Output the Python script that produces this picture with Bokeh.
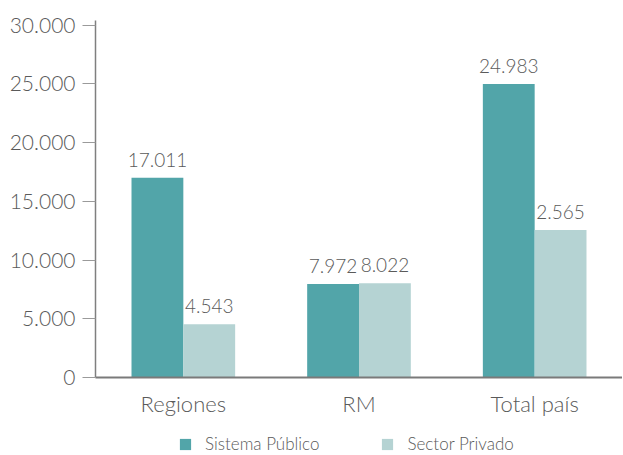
from bokeh.plotting import figure
from bokeh.layouts import column
from bokeh.models import FactorRange, FixedTicker, Legend, LegendItem, ColumnDataSource, Range1d
from bokeh.transform import dodge
from bokeh.core.properties import value
from bokeh.embed import file_html
from bokeh.resources import INLINE

categories = ["Regiones", "RM", "Total país"]
series_names = ["Sistema Público", "Sector Privado"]
sistema_publico = [17011, 7972, 24983]
sector_privado = [4543, 8022, 12565]
labels_publico = ["17.011", "7.972", "24.983"]
labels_privado = ["4.543", "8.022", "2.565"]
y_ticks = [0, 5000, 10000, 15000, 20000, 25000, 30000]
y_tick_labels = ["0", "5.000", "10.000", "15.000", "20.000", "25.000", "30.000"]

FONT = "'Lato Light', Lato"
TEXT_COLOR = "#5a5a5a"
C1 = "#52A5A9"
C2 = "#B5D3D3"

source = ColumnDataSource(dict(cat=categories, pub=sistema_publico, priv=sector_privado,
                               lpub=labels_publico, lpriv=labels_privado))

p = figure(x_range=FactorRange(factors=categories), y_range=Range1d(0, 30400),
           width=622, height=433, output_backend="svg", toolbar_location=None,
           min_border_left=95, min_border_top=20, min_border_right=0, min_border_bottom=56)
p.outline_line_color = None
p.xgrid.grid_line_color = None
p.ygrid.grid_line_color = None

w = 0.295
off = w / 2
p.vbar(x=dodge("cat", -off, range=p.x_range), top="pub", width=w, source=source,
       fill_color=C1, line_color=None)
p.vbar(x=dodge("cat", off, range=p.x_range), top="priv", width=w, source=source,
       fill_color=C2, line_color=None)

for xo, col, lab in [(-off, "pub", "lpub"), (off, "priv", "lpriv")]:
    p.text(x=dodge("cat", xo, range=p.x_range), y=col, text=lab, source=source,
           text_align="center", text_baseline="bottom", y_offset=-11,
           text_font=value(FONT), text_font_size="19px", text_color=TEXT_COLOR)

# y axis
p.yaxis.ticker = FixedTicker(ticks=y_ticks)
p.yaxis.major_label_overrides = {t: l for t, l in zip(y_ticks, y_tick_labels)}
p.yaxis.major_label_text_font = FONT
p.yaxis.major_label_text_font_size = "21px"
p.yaxis.major_label_text_color = TEXT_COLOR
p.yaxis.axis_line_color = "#7f7f7f"
p.yaxis.axis_line_width = 1.5
p.yaxis.major_tick_line_color = "#9a9a9a"
p.yaxis.major_tick_out = 13
p.yaxis.major_tick_in = 0
p.yaxis.minor_tick_line_color = None
p.yaxis.major_label_standoff = 7

# x axis
p.xaxis.axis_line_color = "#7a7a7a"
p.xaxis.axis_line_width = 2
p.xaxis.major_tick_line_color = None
p.xaxis.minor_tick_line_color = None
p.xaxis.major_label_text_font = FONT
p.xaxis.major_label_text_font_size = "22px"
p.xaxis.major_label_text_color = TEXT_COLOR
p.xaxis.major_label_standoff = 6

# legend in a separate strip below (its frame is aligned with the main frame)
lf = figure(width=622, height=21, output_backend="svg", toolbar_location=None,
            x_range=Range1d(0, 1), y_range=Range1d(0, 1),
            x_axis_type=None, y_axis_type=None,
            min_border_left=0, min_border_right=0, min_border_top=0, min_border_bottom=0)
lf.outline_line_color = None
lf.xgrid.grid_line_color = None
lf.ygrid.grid_line_color = None
d1 = lf.vbar(x=[5], top=[1], width=0.1, fill_color=C1, line_color=None)
d2 = lf.vbar(x=[5], top=[1], width=0.1, fill_color=C2, line_color=None)
legend = Legend(items=[LegendItem(label=series_names[0], renderers=[d1]),
                       LegendItem(label=series_names[1], renderers=[d2])],
                orientation="horizontal", location=(83, 0),
                label_text_font=FONT, label_text_font_size="17px",
                label_text_color=TEXT_COLOR, border_line_color=None,
                background_fill_alpha=0, glyph_width=14, glyph_height=14,
                label_standoff=13, spacing=61, padding=0, margin=0)
lf.add_layout(legend, "center")

layout = column(p, lf, spacing=0)
open("out.html", "w").write(file_html(layout, INLINE))
